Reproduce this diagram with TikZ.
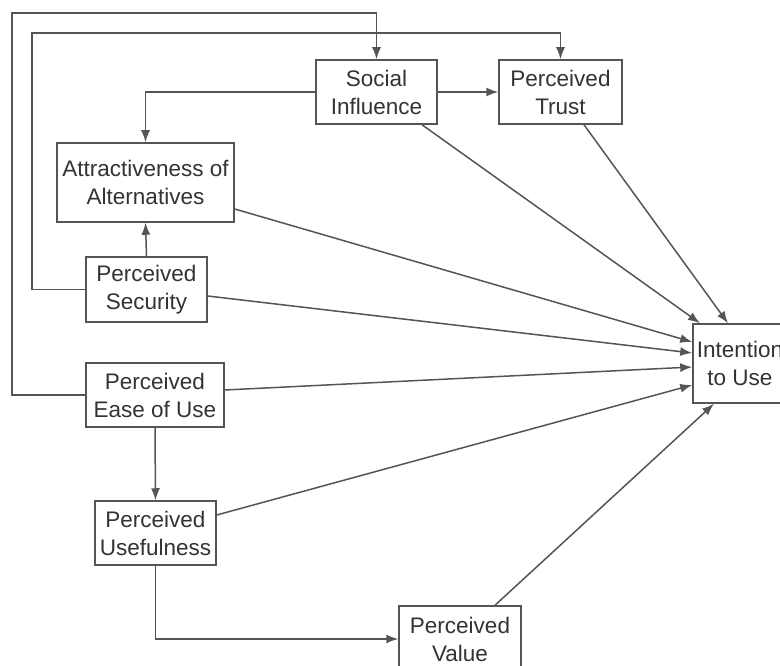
\documentclass[tikz,border=0pt]{standalone}
\usepackage{fontspec}
\setmainfont{Liberation Sans}
\usetikzlibrary{arrows.meta,calc}
\definecolor{linegray}{HTML}{555555}
\definecolor{textgray}{HTML}{333333}
\begin{document}
\begin{tikzpicture}[x=1pt,y=-1pt,
  box/.style={draw=linegray,line width=1.5pt,fill=white,align=center,inner sep=0pt,
    text=textgray,font=\fontsize{22.5}{28}\selectfont},
  conn/.style={draw=linegray,line width=1.5pt,-{Latex[length=12pt,width=9pt]}},
  plain/.style={draw=linegray,line width=1.5pt}]
\useasboundingbox (0,0) rectangle (780,666);
\clip (0,0) rectangle (780,666);
\fill[white] (0,0) rectangle (780,666);

\node[box,minimum width=121pt,minimum height=64pt] (SI) at (376.5,92) {Social\\Influence};
\node[box,minimum width=123pt,minimum height=64pt] (PT) at (560.5,92) {Perceived\\Trust};
\node[box,minimum width=177pt,minimum height=79pt] (AA) at (145.5,182.5) {Attractiveness of\\Alternatives};
\node[box,minimum width=121pt,minimum height=65pt] (PS) at (146.5,289.5) {Perceived\\Security};
\node[box,minimum width=138pt,minimum height=64pt] (PE) at (155,395) {Perceived\\Ease of Use};
\node[box,minimum width=121pt,minimum height=64pt] (PU) at (155.5,533) {Perceived\\Usefulness};
\node[box,minimum width=122pt,minimum height=66pt] (PV) at (460,639) {Perceived\\Value};
\node[box,minimum width=94pt,minimum height=79pt] (IU) at (740,363.5) {Intention\\to Use};

\coordinate (o1) at (12,13);
\coordinate (o2) at (32,33);

% feedback loops
\draw[conn] (PE.west) -| (o1) -| (SI.north);
\draw[conn] (PS.west) -| (o2) -| (PT.north);

% local links
\draw[conn] (SI.west) -| (AA.north);
\draw[conn] (SI.east) -- (PT.west);
\draw[conn] (PS.north) -- (AA.south);
\draw[conn] (PE.south) -- (PU.north);
\draw[conn] (PU.south) |- (PV.west);

% links into Intention to Use
\draw[conn] ([xshift=45.5pt]SI.south) -- ([xshift=-40pt]IU.north);
\draw[conn] ([xshift=23.5pt]PT.south) -- ([xshift=-12pt]IU.north);
\draw[conn] ([yshift=-26.5pt]AA.east) -- ([yshift=21.5pt]IU.west);
\draw[conn] ([yshift=-6.5pt]PS.east) -- ([yshift=10.5pt]IU.west);
\draw[conn] ([yshift=5pt]PE.east) -- ([yshift=-3.5pt]IU.west);
\draw[conn] ([yshift=18pt]PU.east) -- ([yshift=-21.5pt]IU.west);
\draw[conn] ([xshift=35pt]PV.north) -- ([xshift=-26pt]IU.south);
\end{tikzpicture}
\end{document}
